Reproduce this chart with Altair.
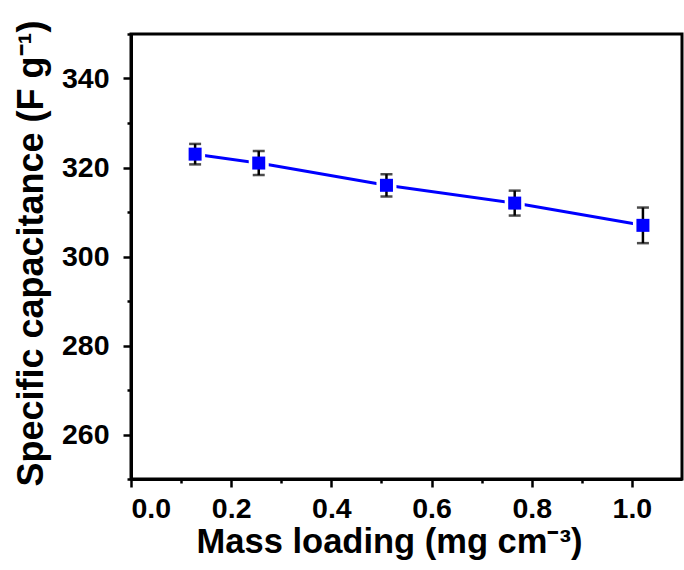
import altair as alt
import pandas as pd

# data
mass_loading = [0.128, 0.255, 0.510, 0.766, 1.022]
capacitance = [323.0, 321.0, 316.0, 312.0, 307.0]
error = [2.3, 2.7, 2.5, 2.8, 4.0]

x_ticks = [0.0, 0.1, 0.2, 0.3, 0.4, 0.5, 0.6, 0.7, 0.8, 0.9, 1.0]
y_ticks = [250, 260, 270, 280, 290, 300, 310, 320, 330, 340, 350]

df = pd.DataFrame({
    "x": mass_loading,
    "y": capacitance,
    "lo": [c - e for c, e in zip(capacitance, error)],
    "hi": [c + e for c, e in zip(capacitance, error)],
})

FONT = "Liberation Sans"
BLUE = "#0000FF"

x_major = "abs(datum.value*5 - round(datum.value*5)) < 0.001"
y_major = "datum.value % 20 == 0"

x_enc = alt.X(
    "x:Q",
    scale=alt.Scale(domain=[0, 1.1], nice=False, zero=False),
    axis=alt.Axis(
        values=x_ticks,
        format=".1f",
        labelExpr=f"{x_major} ? datum.label : ''",
        tickSize={"condition": {"test": x_major, "value": 8}, "value": 4},
        title="Mass loading (mg cm⁻³)",
        titleFontSize=34.5,
        titleX=258,
        titleY=73,
        titleBaseline="alphabetic",
        titleAlign="center",
        titleAnchor="middle",
    ),
)
y_enc = alt.Y(
    "y:Q",
    scale=alt.Scale(domain=[250, 350], nice=False, zero=False),
    axis=alt.Axis(
        values=y_ticks,
        labelExpr=f"{y_major} ? datum.label : ''",
        tickSize={"condition": {"test": y_major, "value": 8}, "value": 4},
        title="Specific capacitance (F g⁻¹)",
        titleFontSize=36,
        titleX=-89,
        titleY=219,
        titleAngle=270,
        titleBaseline="alphabetic",
        titleAlign="center",
        titleAnchor="middle",
    ),
)

base = alt.Chart(df)

line = base.mark_line(color=BLUE, strokeWidth=3).encode(x=x_enc, y=y_enc)
halo = base.mark_square(size=400, color="white", opacity=1).encode(x="x:Q", y="y:Q")
err_rule = base.mark_rule(color="black", strokeWidth=2.5).encode(x="x:Q", y="lo:Q", y2="hi:Q")
cap_hi = base.mark_tick(color="black", size=12, thickness=2.5, orient="horizontal").encode(x="x:Q", y="hi:Q")
cap_lo = base.mark_tick(color="black", size=12, thickness=2.5, orient="horizontal").encode(x="x:Q", y="lo:Q")
pts = base.mark_square(size=169, color=BLUE, opacity=1).encode(x="x:Q", y="y:Q")

chart = (
    alt.layer(line, halo, err_rule, cap_hi, cap_lo, pts)
    .properties(
        width=551,
        height=445,
        autosize=alt.AutoSizeParams(type="none"),
        padding={"left": 131, "top": 34, "right": 2, "bottom": 91},
        background="white",
    )
    .configure_view(stroke="black", strokeWidth=3)
    .configure_axis(
        domainColor="black",
        domainWidth=3,
        tickColor="black",
        tickWidth=2.5,
        grid=False,
        labelFont=FONT,
        labelFontSize=28.5,
        labelFontWeight="bold",
        labelColor="black",
        labelPadding=7,
        titleFont=FONT,
        titleFontWeight="bold",
        titleColor="black",
    )
    .configure_axisY(labelPadding=14)
)

chart.save("out.html", embed_options={"renderer": "svg", "actions": False})
